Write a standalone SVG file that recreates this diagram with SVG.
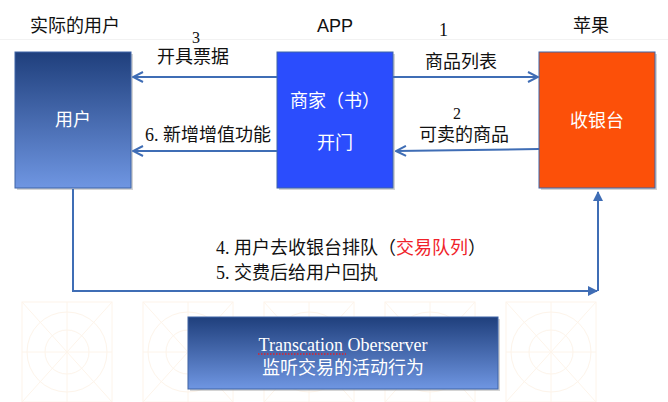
<svg xmlns="http://www.w3.org/2000/svg" width="668" height="402" viewBox="0 0 668 402">
<defs>
<linearGradient id="gBlue" x1="0" y1="0" x2="0" y2="1">
<stop offset="0" stop-color="#1f3f7c"/>
<stop offset="1" stop-color="#6f96e2"/>
</linearGradient>
<marker id="open" viewBox="0 0 12 12" refX="11" refY="6" markerWidth="12" markerHeight="12" markerUnits="userSpaceOnUse" orient="auto">
<path d="M1,1 L11,6 L1,11" fill="none" stroke="#3f6db5" stroke-width="2"/>
</marker>
<marker id="fill" viewBox="0 0 10 10" refX="9" refY="5" markerWidth="10" markerHeight="10" markerUnits="userSpaceOnUse" orient="auto">
<path d="M0,0 L10,5 L0,10 Z" fill="#3f6db5"/>
</marker>
<g id="tile" fill="none" stroke="#fdf4ea" stroke-width="1">
<rect x="0" y="0" width="90" height="100"/>
<circle cx="45" cy="50" r="40"/>
<circle cx="45" cy="50" r="22"/>
<line x1="0" y1="0" x2="90" y2="100"/>
<line x1="90" y1="0" x2="0" y2="100"/>
<line x1="45" y1="0" x2="45" y2="100"/>
<line x1="0" y1="50" x2="90" y2="50"/>
</g>
</defs>
<style>
.t{font-family:"Noto Sans CJK SC","Liberation Sans",sans-serif;font-size:18px;fill:#111}
.w{font-family:"Noto Sans CJK SC","Liberation Sans",sans-serif;font-size:18px;fill:#fff}
.s{font-family:"Liberation Serif","Noto Sans CJK SC",serif}
.n{font-family:"Liberation Serif",serif;font-size:16px;fill:#111}
.c{stroke:#3f6db5;stroke-width:2;fill:none}
</style>
<rect width="668" height="402" fill="#fff"/>
<g id="watermark">
<use href="#tile" x="22" y="302"/>
<use href="#tile" x="143" y="302"/>
<use href="#tile" x="264" y="302"/>
<use href="#tile" x="385" y="302"/>
<use href="#tile" x="506" y="302"/>
</g>
<line x1="0" y1="39.500" x2="668" y2="39.500" stroke="#f2f2f2" stroke-width="1"/>
<g id="titles">
<text class="t" x="30" y="32">实际的用户</text>
<text class="t" x="317" y="32" style="font-family:'Liberation Sans',sans-serif">APP</text>
<text class="n" x="439" y="36" style="font-size:18px">1</text>
<text class="t" x="573" y="32">苹果</text>
</g>
<g id="user">
<rect x="17" y="54" width="116" height="136" fill="#aaa" opacity="0.5"/>
<rect x="15" y="52" width="116" height="136" fill="url(#gBlue)" stroke="#3e64a8" stroke-width="1"/>
<text class="w" x="73" y="126" text-anchor="middle">用户</text>
</g>
<g id="merchant">
<rect x="279" y="54" width="116" height="136" fill="#aaa" opacity="0.5"/>
<rect x="277" y="52" width="116" height="136" fill="#2b4dfd" stroke="#3e64a8" stroke-width="1"/>
<text class="w" x="335" y="107" text-anchor="middle">商家（书）</text>
<text class="w" x="335" y="149" text-anchor="middle">开门</text>
</g>
<g id="apple">
<rect x="541" y="54" width="116" height="136" fill="#aaa" opacity="0.5"/>
<rect x="539" y="52" width="116" height="136" fill="#fc5009" stroke="#3e64a8" stroke-width="1"/>
<text class="w" x="597" y="127" text-anchor="middle">收银台</text>
</g>
<g id="observer">
<rect x="190" y="319" width="310" height="72" fill="#aaa" opacity="0.5"/>
<rect x="188" y="317" width="310" height="72" fill="url(#gBlue)" stroke="#3e64a8" stroke-width="1"/>
<text class="w s" x="343" y="351" text-anchor="middle">Transcation Oberserver</text>
<line x1="258" y1="354" x2="346" y2="354" stroke="#e0202a" stroke-width="1.500" stroke-dasharray="1.500,1.500"/>
<text class="w" x="343" y="374" text-anchor="middle">监听交易的活动行为</text>
</g>
<g id="connectors">
<line class="c" x1="393" y1="77" x2="538" y2="77" marker-end="url(#open)"/>
<line class="c" x1="539" y1="149" x2="396" y2="151" marker-end="url(#open)"/>
<line class="c" x1="277" y1="77" x2="133" y2="77" marker-end="url(#open)"/>
<line class="c" x1="277" y1="151" x2="133" y2="151" marker-end="url(#open)"/>
<polyline class="c" points="73,189 73,291 597,291" marker-end="url(#fill)"/>
<line class="c" x1="598" y1="291" x2="598" y2="192" marker-end="url(#fill)"/>
</g>
<g id="labels">
<text class="t" x="425" y="68">商品列表</text>
<text class="n" x="453" y="119">2</text>
<text class="t" x="419" y="141">可卖的商品</text>
<text class="n" x="192" y="43">3</text>
<text class="t" x="157" y="63">开具票据</text>
<text class="t" x="145" y="141"><tspan class="s">6. </tspan>新增增值功能</text>
<text class="t" x="216" y="254"><tspan class="s">4. </tspan>用户去收银台排队（<tspan fill="#f0222a">交易队列</tspan>）</text>
<text class="t" x="216" y="279"><tspan class="s">5. </tspan>交费后给用户回执</text>
</g>
</svg>
